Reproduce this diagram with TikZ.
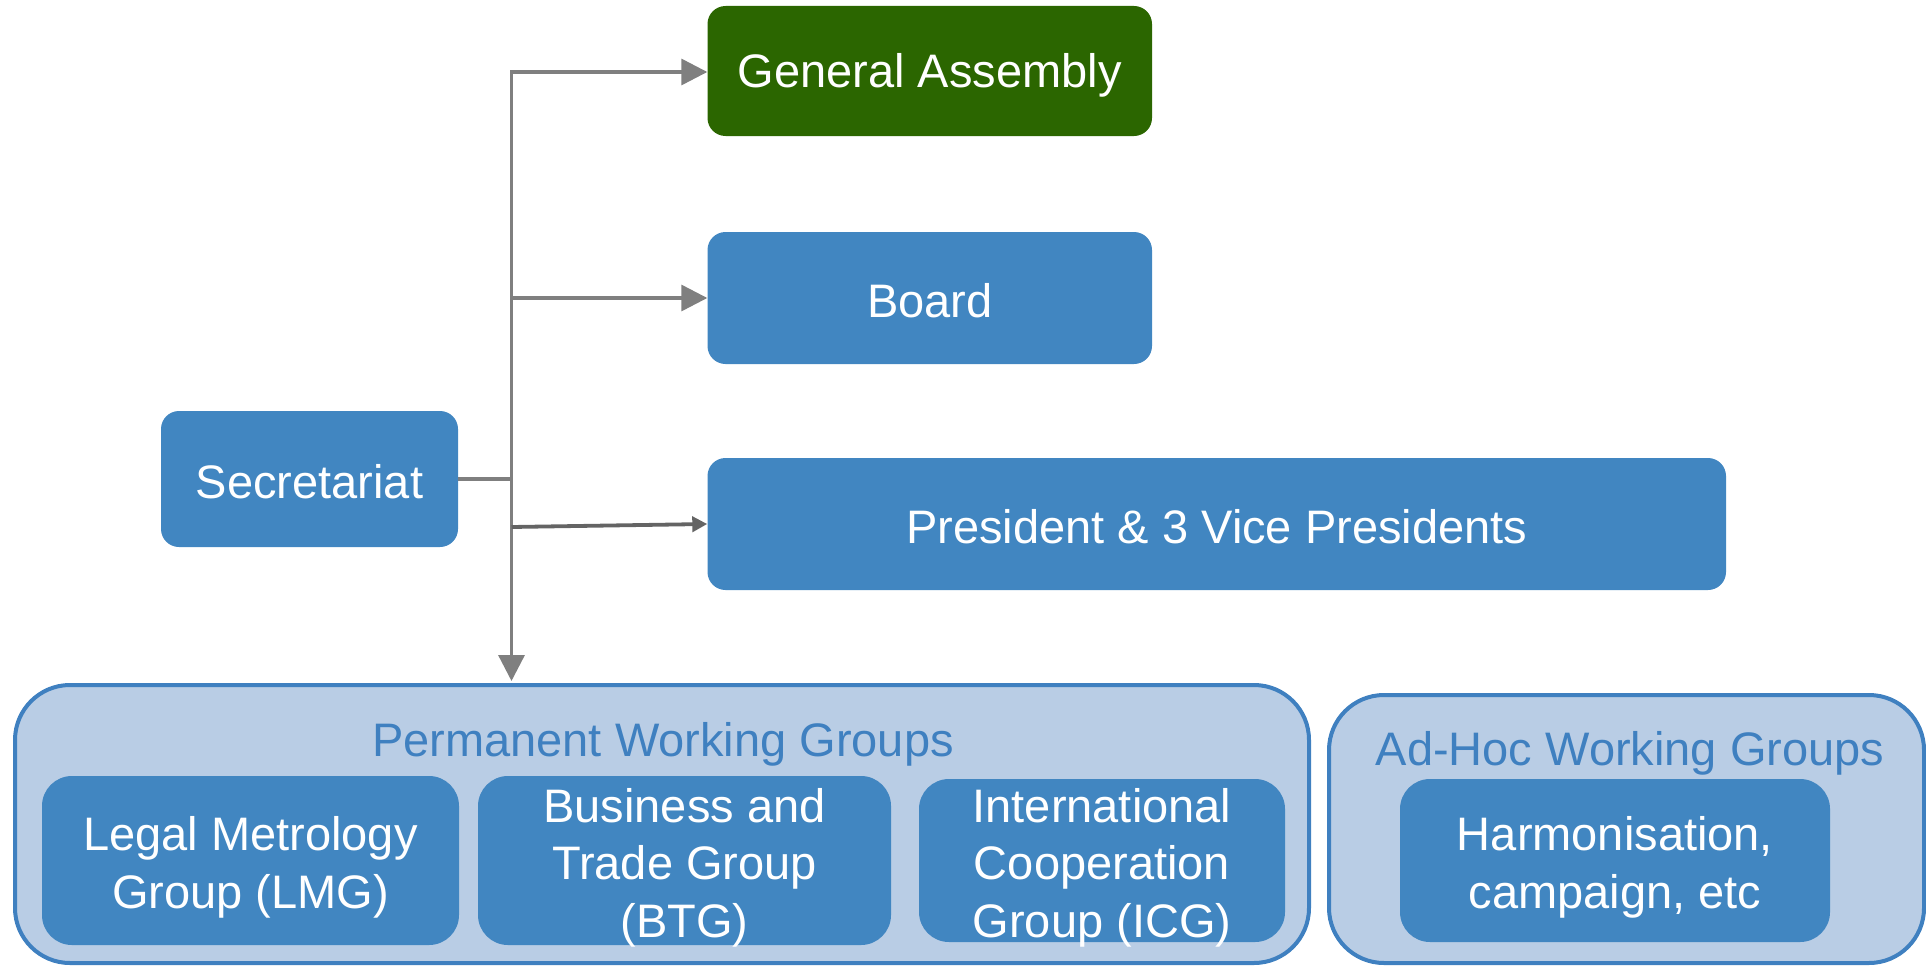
\documentclass[tikz,border=0pt]{standalone}
\usepackage{fontspec}
\setmainfont{Liberation Sans}
\usetikzlibrary{arrows.meta}
\definecolor{boxblue}{RGB}{65,134,193}
\definecolor{gagreen}{RGB}{43,102,0}
\definecolor{lightblue}{RGB}{185,205,229}
\definecolor{contborder}{RGB}{63,128,192}
\definecolor{arrowgray}{RGB}{127,127,127}
\definecolor{darkgray}{RGB}{100,100,100}
\tikzset{
  bluebox/.style={fill=boxblue, rounded corners=18pt, inner sep=0pt},
  groupbox/.style={fill=boxblue, rounded corners=30pt, inner sep=0pt},
  boxtext/.style={text=white, inner sep=0pt, align=center, font=\fontsize{47}{57.5}\selectfont},
  container/.style={fill=lightblue, draw=contborder, line width=4pt, rounded corners=55pt, inner sep=0pt},
  grouptitle/.style={text=contborder, inner sep=0pt, font=\fontsize{47}{57}\selectfont},
  conn/.style={draw=arrowgray, line width=3.3pt},
  bigtip/.style={-{Triangle[length=26pt,width=26pt]}},
  smalltip/.style={-{Triangle[length=15pt,width=15pt]}},
}
\begin{document}
\begin{tikzpicture}[x=1pt,y=-1pt]
\useasboundingbox (0,0) rectangle (1926,966);
% top boxes
\node[bluebox, fill=gagreen, minimum width=444.5pt, minimum height=130pt] (ga) at (929.75,71) {};
\node[boxtext] (gat) at ([yshift=-4pt]ga.center) {General Assembly};
\node[bluebox, minimum width=444.5pt, minimum height=132pt] (board) at (929.75,298) {};
\node[boxtext] (boardt) at ([yshift=-3pt]board.center) {Board};
\node[bluebox, minimum width=1018.5pt, minimum height=132pt] (pres) at (1216.75,524) {};
\node[boxtext] (prest) at ([yshift=-3pt]pres.center) {President \& 3 Vice Presidents};
\node[bluebox, minimum width=297pt, minimum height=136pt] (sec) at (309.5,479) {};
\node[boxtext] (sect) at ([yshift=-3pt]sec.center) {Secretariat};
% containers
\node[container, minimum width=1294pt, minimum height=278pt] (perm) at (662,824) {};
\node[container, minimum width=595pt, minimum height=268pt] (adhoc) at (1626.5,829) {};
\node[grouptitle] (permtitle) at (663,744) {Permanent Working Groups};
\node[grouptitle] (adhoctitle) at (1630,753) {Ad-Hoc Working Groups};
% group boxes
\node[groupbox, minimum width=417pt, minimum height=169pt] (lmg) at (250.5,860.5) {};
\node[boxtext] (lmgt) at ([yshift=-7pt]lmg.center) {Legal Metrology\\Group (LMG)};
\node[groupbox, minimum width=413pt, minimum height=169pt] (btg) at (684.5,860.5) {};
\node[boxtext] (btgt) at ([yshift=-7pt]btg.center) {Business and\\Trade Group\\(BTG)};
\node[groupbox, minimum width=366pt, minimum height=163pt] (icg) at (1102,860.5) {};
\node[boxtext] (icgt) at ([yshift=-7pt]icg.center) {International\\Cooperation\\Group (ICG)};
\node[groupbox, minimum width=430pt, minimum height=163pt] (harm) at (1615,860.5) {};
\node[boxtext] (harmt) at ([yshift=-7pt]harm.center) {Harmonisation,\\campaign, etc};
% connectors
\coordinate (j) at (511.5,479);
\coordinate (jpres) at (511.5,527);
\draw[conn] (sec.east) -- (j);
\draw[conn, bigtip] (j) |- ([yshift=-1pt]ga.west);
\draw[conn, bigtip] (j) |- (board.west);
\draw[conn, bigtip] (j) -- ([yshift=2pt]j |- perm.north);
\draw[conn, draw=darkgray, line width=3.8pt, smalltip] (jpres) -- (pres.west);
\end{tikzpicture}
\end{document}
